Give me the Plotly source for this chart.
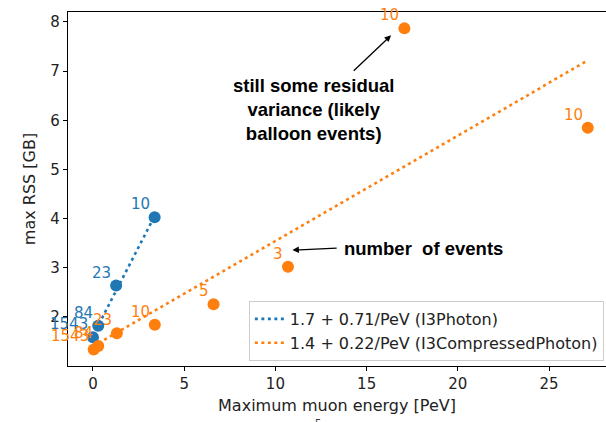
import plotly.graph_objects as go

# ---- data ----
photon_energy = [0.0, 0.29, 1.27, 3.38]
photon_rss = [1.59, 1.82, 2.64, 4.03]
photon_counts = ["1543", "84", "23", "10"]

compressed_energy = [0.04, 0.29, 1.31, 3.39, 6.61, 10.69, 17.07, 27.12]
compressed_rss = [1.34, 1.41, 1.67, 1.84, 2.26, 3.02, 7.87, 5.85]
compressed_counts = ["1543", "84", "23", "10", "5", "3", "10", "10"]

photon_fit = [1.62, 0.72]        # intercept, slope
compressed_fit = [1.40, 0.2145]  # intercept, slope
photon_label = "1.7 + 0.71/PeV (I3Photon)"
compressed_label = "1.4 + 0.22/PeV (I3CompressedPhoton)"

x_ticks = [0, 5, 10, 15, 20, 25]
y_ticks = [2, 3, 4, 5, 6, 7, 8]

BLUE = "#1f77b4"
ORANGE = "#ff7f0e"
FONT = "DejaVu Sans"
BOLD = "Liberation Sans"

fig = go.Figure()

def fit_line(fit, xs):
    x0, x1 = 0.0, max(xs)
    return [x0, x1], [fit[0] + fit[1] * x0, fit[0] + fit[1] * x1]

for xs, fit, color, name in [
    (photon_energy, photon_fit, BLUE, photon_label),
    (compressed_energy, compressed_fit, ORANGE, compressed_label),
]:
    lx, ly = fit_line(fit, xs)
    fig.add_trace(go.Scatter(x=lx, y=ly, mode="lines", name=name,
                             line=dict(color=color, width=2.6, dash="3px,3.5px")))

for xs, ys, color in [(photon_energy, photon_rss, BLUE),
                      (compressed_energy, compressed_rss, ORANGE)]:
    fig.add_trace(go.Scatter(x=xs, y=ys, mode="markers", showlegend=False,
                             marker=dict(color=color, size=12, line=dict(width=0)),
                             cliponaxis=False))

annotations = []
for xs, ys, labels, color in [(photon_energy, photon_rss, photon_counts, BLUE),
                              (compressed_energy, compressed_rss, compressed_counts, ORANGE)]:
    for x, y, t in zip(xs, ys, labels):
        annotations.append(dict(x=x, y=y, text=t, showarrow=False,
                                xanchor="right", yanchor="bottom",
                                xshift=-3, yshift=2,
                                font=dict(family=FONT, size=15, color=color)))

# comment annotations
annotations.append(dict(x=16.34, y=7.73, ax=14.21, ay=6.98, axref="x", ayref="y",
                        text="", showarrow=True, arrowhead=2, arrowsize=1,
                        arrowwidth=1.3, arrowcolor="black"))
annotations.append(dict(x=12.1, y=6.21, text="still some residual<br>variance (likely<br>balloon events)",
                        showarrow=False, xanchor="center", yanchor="middle",
                        font=dict(family=BOLD, size=18.5, color="black", weight="bold")))
annotations.append(dict(x=10.93, y=3.36, ax=13.44, ay=3.40, axref="x", ayref="y",
                        text="", showarrow=True, arrowhead=2, arrowsize=1,
                        arrowwidth=1.3, arrowcolor="black"))
annotations.append(dict(x=13.66, y=3.40, text="number\u00a0 of events",
                        showarrow=False, xanchor="left", yanchor="middle",
                        font=dict(family=BOLD, size=18.5, color="black", weight="bold")))
annotations.append(dict(x=0.465, y=-0.14, xref="paper", yref="paper", text="5",
                        showarrow=False, xanchor="center", yanchor="top",
                        font=dict(family=FONT, size=10, color="#333333")))

fig.update_layout(
    width=606, height=422,
    margin=dict(l=68, r=0, t=12, b=56),
    plot_bgcolor="white", paper_bgcolor="white",
    font=dict(family=FONT, size=15, color="#222222"),
    showlegend=True,
    legend=dict(x=0.996, xanchor="right", y=0.5 - (331 - 189) / 354 + 0.5 - 0.5, yanchor="middle",
                bgcolor="rgba(255,255,255,0.85)", bordercolor="#cccccc", borderwidth=1,
                font=dict(family=FONT, size=16, color="#222222"),
                tracegroupgap=0, itemwidth=30),
    annotations=annotations,
    xaxis=dict(range=[-1.368, 28.12], tickvals=x_ticks, ticks="outside", ticklen=4,
               tickcolor="black", showline=True, linecolor="black", linewidth=1.2,
               mirror=True, showgrid=False, zeroline=False,
               title=dict(text="Maximum muon energy [PeV]", standoff=7,
                          font=dict(family=FONT, size=16)),
               tickfont=dict(family=FONT, size=15)),
    yaxis=dict(range=[1.003, 8.203], tickvals=y_ticks, ticks="outside", ticklen=4,
               tickcolor="black", showline=True, linecolor="black", linewidth=1.2,
               mirror=True, showgrid=False, zeroline=False,
               title=dict(text="max RSS [GB]", standoff=10,
                          font=dict(family=FONT, size=16)),
               tickfont=dict(family=FONT, size=15)),
)

fig.write_html("out.html")
